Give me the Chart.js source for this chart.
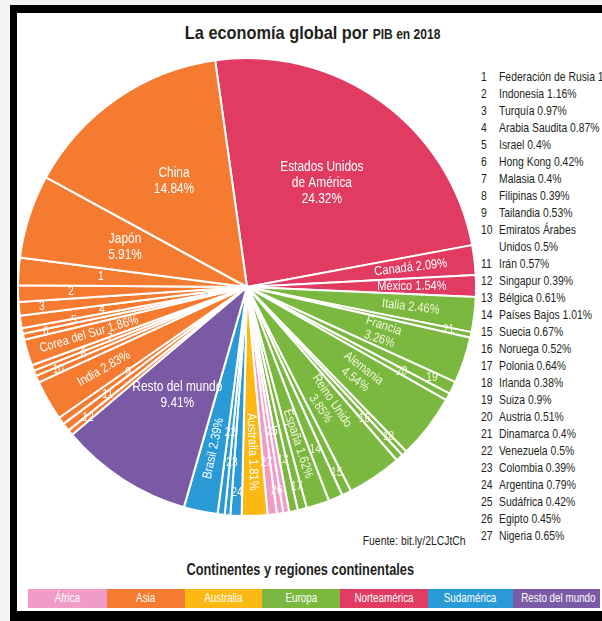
<!DOCTYPE html>
<html lang="es">
<head>
<meta charset="utf-8">
<title>La economía global por PIB en 2018</title>
<script src="https://cdn.jsdelivr.net/npm/chart.js"></script>
<style>
  body { margin:0; width:602px; height:621px; overflow:hidden; position:relative; background:#f4f4f4;
         font-family:'Liberation Sans',Arial,sans-serif; color:#231f20; }
  #marco { position:absolute; left:10px; top:5px; width:640px; height:616px; box-sizing:border-box; background:#fff;
           border-top:8px solid #000; border-left:7px solid #000; border-bottom:10px solid #000; }
  .estrecho { display:inline-block; white-space:nowrap; }
  #titulo { position:absolute; left:0; top:22px; width:626px; text-align:center; font-weight:bold; font-size:19px; }
  #titulo .estrecho { transform:scaleX(0.86); }
  #titulo small { font-size:14px; }
  #grafico { position:absolute; left:17px; top:57px; }
  #lista { position:absolute; left:481px; top:68px; margin:0; padding:0; list-style:none; font-size:13px; line-height:17px;
           transform:scaleX(0.8); transform-origin:left top; }
  #lista li { display:flex; white-space:pre; }
  #lista li b { font-weight:normal; width:22.5px; flex:none; }
  #fuente { position:absolute; right:136px; top:533px; font-size:13px; transform:scaleX(0.8); transform-origin:right top; white-space:nowrap; }
  #leyendaTitulo { position:absolute; left:0; width:600px; top:561px; text-align:center; font-weight:bold; font-size:16px; }
  #leyendaTitulo .estrecho { transform:scaleX(0.8); }
  #leyenda { position:absolute; left:28px; top:589px; height:19px; display:flex; }
  #leyenda div { height:19px; line-height:19px; text-align:center; color:#fff; font-size:12px; overflow:hidden; }
  #leyenda span { display:inline-block; white-space:nowrap; transform:scaleX(0.82); }
</style>
</head>
<body>
<div id="marco"></div>
<div id="titulo"><span class="estrecho">La economía global por <small>PIB en 2018</small></span></div>
<canvas id="grafico" width="460" height="460"></canvas>
<ul id="lista"></ul>
<div id="fuente">Fuente: bit.ly/2LCJtCh</div>
<div id="leyendaTitulo"><span class="estrecho">Continentes y regiones continentales</span></div>
<div id="leyenda"></div>
<script>
// paises en el orden en que se dibujan (sentido horario desde arriba)
const nombres = [
  'Estados Unidos\nde América', 'Canadá', 'México',
  'Italia', 'Dinamarca', 'Francia', 'Suiza', 'Austria', 'Alemania', 'Irlanda', 'Noruega',
  'Reino\nUnido', 'Suecia', 'Países Bajos', 'España', 'Polonia', 'Bélgica',
  'Sudáfrica', 'Egipto', 'Nigeria',
  'Australia',
  'Argentina', 'Colombia', 'Venezuela', 'Brasil',
  'Resto del mundo',
  'Singapur', 'Irán', 'Tailandia', 'India', 'Emiratos Árabes\nUnidos', 'Filipinas', 'Malasia',
  'Corea\ndel Sur', 'Hong Kong', 'Israel', 'Arabia Saudita', 'Turquía', 'Indonesia',
  'Federación de Rusia', 'Japón', 'China'
];
const valores = [
  24.32, 2.09, 1.54,
  2.46, 0.4, 3.26, 0.9, 0.51, 4.54, 0.38, 0.52,
  3.85, 0.67, 1.01, 1.62, 0.64, 0.61,
  0.42, 0.45, 0.65,
  1.81,
  0.79, 0.39, 0.5, 2.39,
  9.41,
  0.39, 0.57, 0.53, 2.83, 0.5, 0.39, 0.4,
  1.86, 0.42, 0.4, 0.87, 0.97, 1.16,
  1.93, 5.91, 14.84
];
const numeros = [
  null, null, null,
  null, 21, null, 19, 20, null, 18, 16,
  null, 15, 14, null, 17, 13,
  25, 26, 27,
  null,
  24, 23, 22, null,
  null,
  12, 11, 9, null, 10, 8, 7,
  null, 6, 5, 4, 3, 2,
  1, null, null
];
const region = [
  'Norteamérica', 'Norteamérica', 'Norteamérica',
  'Europa', 'Europa', 'Europa', 'Europa', 'Europa', 'Europa', 'Europa', 'Europa',
  'Europa', 'Europa', 'Europa', 'Europa', 'Europa', 'Europa',
  'África', 'África', 'África',
  'Australia',
  'Sudamérica', 'Sudamérica', 'Sudamérica', 'Sudamérica',
  'Resto del mundo',
  'Asia', 'Asia', 'Asia', 'Asia', 'Asia', 'Asia', 'Asia',
  'Asia', 'Asia', 'Asia', 'Asia', 'Asia', 'Asia',
  'Asia', 'Asia', 'Asia'
];
const regiones = ['África', 'Asia', 'Australia', 'Europa', 'Norteamérica', 'Sudamérica', 'Resto del mundo'];
const coloresRegion = ['#f29bc6', '#f47b30', '#fdb913', '#7bb83f', '#e13b61', '#2a9ad6', '#7a59a5'];
const anchoLeyenda = [79, 78, 77, 78, 88, 85, 87];

const fuente = "'Liberation Sans',Arial,sans-serif";

// lista numerada de la derecha
const lista = document.getElementById('lista');
numeros.map((n, i) => [n, i]).filter(d => d[0]).sort((a, b) => a[0] - b[0]).forEach(([n, i]) => {
  const li = document.createElement('li');
  li.innerHTML = '<b>' + n + '</b><span>' + nombres[i] + ' ' + valores[i] + '%</span>';
  lista.appendChild(li);
});

// leyenda de colores
const leyenda = document.getElementById('leyenda');
regiones.forEach((r, k) => {
  const d = document.createElement('div');
  d.innerHTML = '<span>' + r + '</span>';
  d.style.background = coloresRegion[k];
  d.style.width = anchoLeyenda[k] + 'px';
  leyenda.appendChild(d);
});

// etiquetas dentro de las celdas
const etiquetas = {
  id: 'etiquetas',
  afterDatasetsDraw(chart) {
    const ctx = chart.ctx;
    let nivel = 0, anteriorPeq = false;
    chart.getDatasetMeta(0).data.forEach((arc, i) => {
      const p = arc.getProps(['x', 'y', 'startAngle', 'endAngle', 'outerRadius'], true);
      const mid = (p.startAngle + p.endAngle) / 2;
      const R = p.outerRadius;
      ctx.save();
      ctx.fillStyle = region[i] == 'Europa' ? '#f4f7dc' : '#fff';
      ctx.textAlign = 'center';
      ctx.textBaseline = 'middle';
      if (numeros[i]) {
        nivel = anteriorPeq ? (nivel + 1) % 3 : 0;
        anteriorPeq = true;
        const r = R * [0.9, 0.77, 0.64][nivel];
        ctx.translate(p.x + r * Math.cos(mid), p.y + r * Math.sin(mid));
        ctx.scale(0.85, 1);
        ctx.font = '12px ' + fuente;
        ctx.fillText(numeros[i], 0, 0);
      } else {
        anteriorPeq = false;
        const pct = valores[i].toFixed(2) + '%';
        if (valores[i] >= 5.5) {
          const r = R * 0.56;
          const lineas = nombres[i].split('\n').concat([pct]);
          ctx.translate(p.x + r * Math.cos(mid), p.y + r * Math.sin(mid));
          ctx.scale(0.85, 1);
          ctx.font = '14px ' + fuente;
          lineas.forEach((t, k) => ctx.fillText(t, 0, (k - (lineas.length - 1) / 2) * 16));
        } else {
          const dos = valores[i] >= 3;
          const r = R * (dos ? 0.62 : 0.72);
          ctx.translate(p.x + r * Math.cos(mid), p.y + r * Math.sin(mid));
          ctx.rotate(Math.cos(mid) < 0 ? mid + Math.PI : mid);
          ctx.scale(0.85, 1);
          ctx.font = '13px ' + fuente;
          const nombre = nombres[i].replace('\n', ' ');
          if (dos) {
            ctx.fillText(nombre, 0, -7);
            ctx.fillText(pct, 0, 7);
          } else {
            ctx.fillText(nombre + ' ' + pct, 0, 0);
          }
        }
      }
      ctx.restore();
    });
  }
};

new Chart(document.getElementById('grafico'), {
  type: 'pie',
  data: {
    labels: nombres,
    datasets: [{
      data: valores,
      backgroundColor: region.map(r => coloresRegion[regiones.indexOf(r)]),
      borderColor: '#fff',
      borderWidth: 2
    }]
  },
  options: {
    responsive: false,
    animation: false,
    rotation: -8,
    layout: { padding: 0 },
    plugins: { legend: { display: false }, tooltip: { enabled: false } }
  },
  plugins: [etiquetas]
});
</script>
</body>
</html>
